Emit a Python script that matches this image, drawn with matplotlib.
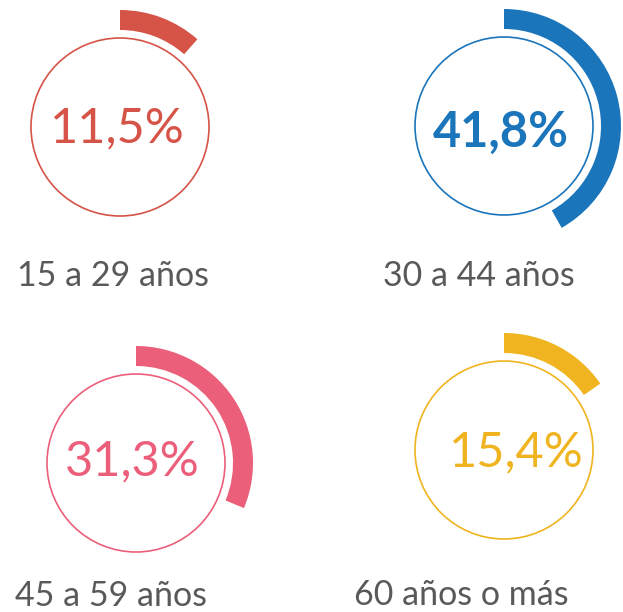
import matplotlib.pyplot as plt
from matplotlib.patches import Wedge, Circle

# data
labels = ["15 a 29 años", "30 a 44 años", "45 a 59 años", "60 años o más"]
values = [11.5, 41.8, 31.3, 15.4]
colors = ["#D65348", "#1B75BB", "#EB5F7A", "#EFB41F"]

# layout (pixel coords, y from top)
centers = [(120, 127), (504, 126), (136, 463), (504, 450)]
text_pos = [(117, 128), (501, 132), (132, 461), (516, 452)]
label_pos = [(113, 276), (479, 276), (111, 596), (461, 595)]
bold = [False, True, False, False]

W, H = 623, 612
fig = plt.figure(figsize=(W / 100, H / 100), dpi=100)
ax = fig.add_axes([0, 0, 1, 1])
ax.set_xlim(0, W)
ax.set_ylim(0, H)
ax.set_aspect("equal")
ax.axis("off")

for i in range(len(values)):
    cx, cy = centers[i]
    cy = H - cy
    col = colors[i]
    ax.add_patch(Circle((cx, cy), 89, fill=False, edgecolor=col, lw=1.2))
    ang = 360 * values[i] / 100
    ax.add_patch(Wedge((cx, cy), 117, 90 - ang, 90, width=20,
                       facecolor=col, edgecolor="none"))
    tx, ty = text_pos[i]
    txt = f"{values[i]:.1f}%".replace(".", ",")
    ax.text(tx, H - ty, txt, color=col, fontsize=35, family="Lato",
            fontweight="bold" if bold[i] else "normal",
            ha="center", va="center")
    lx, ly = label_pos[i]
    ax.text(lx, H - ly, labels[i], color="#595959", fontsize=24.5,
            family="Lato", ha="center", va="center")

fig.savefig("out.png", dpi=100)
